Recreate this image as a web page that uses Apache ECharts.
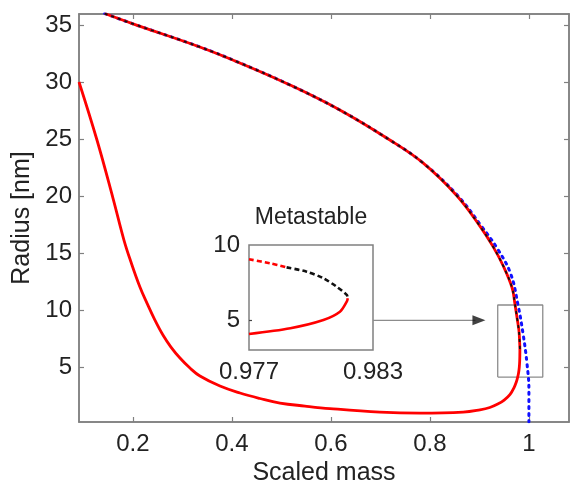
<!DOCTYPE html>
<html><head><meta charset="utf-8">
<script src="https://cdn.jsdelivr.net/npm/echarts@6/dist/echarts.min.js"></script>
<style>html,body{margin:0;padding:0;background:#fff;overflow:hidden}#c{width:571px;height:482px}</style>
</head><body><div id="c"></div>
<script>
// ---- tick values ----
const xTicks = [0.2, 0.4, 0.6, 0.8, 1];
const yTicks = [5, 10, 15, 20, 25, 30, 35];
const insetXTicks = [0.977, 0.983];
const insetYTicks = [5, 10];

// ---- main chart: upper branch (from top-left down to the turning point) ----
const upperMass   = [0.143, 0.2, 0.335, 0.416, 0.517, 0.618, 0.719, 0.786, 0.854, 0.901, 0.927, 0.948, 0.966, 0.9715, 0.977, 0.97802, 0.97882, 0.97979, 0.9806, 0.98124, 0.98173, 0.98178];
const upperRadius = [36.0, 35.1, 33.07, 31.67, 29.74, 27.54, 24.91, 22.9, 20.04, 17.36, 15.6, 13.88, 11.95, 10.6, 9.05, 8.78, 8.51, 8.22, 7.78, 7.22, 6.67, 6.45];

// ---- main chart: lower branch (from the turning point back to the left edge) ----
const lowerMass   = [0.98173, 0.9814, 0.9806, 0.979, 0.977, 0.975, 0.97, 0.962, 0.95, 0.937, 0.921, 0.901, 0.867, 0.78, 0.699, 0.598, 0.5475, 0.497, 0.4566, 0.4162, 0.3758, 0.3354, 0.3152, 0.295, 0.2768, 0.2606, 0.2444, 0.2283, 0.2141, 0.196, 0.1818, 0.1596, 0.1273, 0.091];
const lowerRadius = [6.22, 5.55, 5.0, 4.45, 4.07, 3.75, 3.2, 2.6, 2.1, 1.75, 1.45, 1.25, 1.05, 0.96, 1.05, 1.36, 1.58, 1.84, 2.24, 2.72, 3.33, 4.21, 4.91, 5.79, 6.75, 7.81, 9.12, 10.61, 12.02, 14.21, 16.14, 19.82, 24.91, 30.0];

// ---- main chart: blue dotted curve ----
const blueMass   = [0.143, 0.2, 0.335, 0.416, 0.517, 0.618, 0.719, 0.786, 0.856, 0.904, 0.936, 0.963, 0.978, 0.988, 0.996, 1.0, 1.0];
const blueRadius = [36.0, 35.1, 33.07, 31.67, 29.74, 27.54, 24.91, 22.9, 20.04, 17.36, 15.4, 13.2, 10.44, 7.98, 5.35, 2.98, 0.2];

// ---- zoom box and arrow (data coordinates of main chart) ----
const boxMass   = [0.937, 1.028, 1.028, 0.937, 0.937];
const boxRadius = [4.12, 4.12, 10.44, 10.44, 4.12];
const arrowMass   = [0.685, 0.892];
const arrowRadius = [9.1, 9.1];
const arrowHead   = [[0.899, 9.1]];

// ---- inset (metastable region) ----
const insetLowerMass   = [0.977, 0.979, 0.9806, 0.9814, 0.98173, 0.98178];
const insetLowerRadius = [4.07, 4.45, 5.0, 5.55, 6.22, 6.45];
const insetRedDashMass   = [0.977, 0.97802, 0.97882];
const insetRedDashRadius = [9.05, 8.78, 8.51];
const insetBlackDashMass   = [0.97882, 0.97979, 0.9806, 0.98124, 0.98173, 0.98178];
const insetBlackDashRadius = [8.51, 8.22, 7.78, 7.22, 6.67, 6.45];

const zip = (a, b) => a.map((v, i) => [v, b[i]]);

const FONT = 'Liberation Sans';
const TXT = '#222';
const AX = '#808080';
const axLine = {show: true, lineStyle: {color: AX, width: 1.5}};

const chart = echarts.init(document.getElementById('c'), null, {renderer: 'canvas'});
chart.setOption({
  backgroundColor: '#fff',
  animation: false,
  grid: [
    {left: 79, top: 14, right: 2, bottom: 60, outerBoundsMode: 'none', containLabel: false,
     show: true, borderColor: AX, borderWidth: 1.5, backgroundColor: 'transparent'},
    {left: 249, top: 245, width: 124, height: 105, outerBoundsMode: 'none', containLabel: false,
     show: true, borderColor: AX, borderWidth: 1.5, backgroundColor: '#fff'}
  ],
  graphic: [{
    type: 'text', x: 311, y: 218, z: 100,
    style: {text: 'Metastable', font: '23px "Liberation Sans"', fill: TXT, textAlign: 'center', textVerticalAlign: 'middle'}
  }],
  xAxis: [
    {type: 'value', gridIndex: 0, position: 'bottom', min: 0.091, max: 1.081,
     axisLine: axLine, splitLine: {show: false},
     axisTick: {show: true, inside: true, length: 5, customValues: xTicks, lineStyle: {color: AX, width: 1.2}},
     axisLabel: {customValues: xTicks, color: TXT, fontSize: 24, fontFamily: FONT, margin: 10},
     name: 'Scaled mass', nameLocation: 'middle', nameGap: 36,
     nameTextStyle: {color: TXT, fontSize: 25, fontFamily: FONT}},
    {type: 'value', gridIndex: 0, position: 'top', min: 0.091, max: 1.081,
     axisLine: axLine, splitLine: {show: false}, axisLabel: {show: false},
     axisTick: {show: true, inside: true, length: 5, customValues: xTicks, lineStyle: {color: AX, width: 1.2}}},
    {type: 'value', gridIndex: 1, position: 'bottom', min: 0.977, max: 0.983,
     axisLine: {show: false}, splitLine: {show: false},
     axisTick: {show: false},
     axisLabel: {customValues: insetXTicks, showMinLabel: true, showMaxLabel: true, color: TXT, fontSize: 24, fontFamily: FONT, margin: 10}}
  ],
  yAxis: [
    {type: 'value', gridIndex: 0, position: 'left', min: 0.18, max: 35.96,
     axisLine: axLine, splitLine: {show: false},
     axisTick: {show: true, inside: true, length: 5, customValues: yTicks, lineStyle: {color: AX, width: 1.2}},
     axisLabel: {customValues: yTicks, color: TXT, fontSize: 24, fontFamily: FONT, margin: 7},
     name: 'Radius [nm]', nameLocation: 'middle', nameGap: 44, nameRotate: 90,
     nameTextStyle: {color: TXT, fontSize: 25, fontFamily: FONT}},
    {type: 'value', gridIndex: 0, position: 'right', min: 0.18, max: 35.96,
     axisLine: axLine, splitLine: {show: false}, axisLabel: {show: false},
     axisTick: {show: true, inside: true, length: 5, customValues: yTicks, lineStyle: {color: AX, width: 1.2}}},
    {type: 'value', gridIndex: 1, position: 'left', min: 3, max: 10,
     axisLine: {show: false}, splitLine: {show: false},
     axisTick: {show: true, inside: true, length: 3, customValues: [5], lineStyle: {color: '#444', width: 1.2}},
     axisLabel: {customValues: insetYTicks, showMinLabel: true, showMaxLabel: true, color: TXT, fontSize: 24, fontFamily: FONT, margin: 9}}
  ],
  series: [
    {type: 'line', xAxisIndex: 0, yAxisIndex: 0, data: zip(blueMass, blueRadius), smooth: 0.4, showSymbol: false, clip: true,
     lineStyle: {color: '#1010ff', width: 3, type: [2, 5], cap: 'round'}, z: 3},
    {type: 'line', xAxisIndex: 0, yAxisIndex: 0, data: zip(upperMass, upperRadius).concat(zip(lowerMass, lowerRadius)), smooth: 0.4, showSymbol: false, clip: true,
     lineStyle: {color: '#ff0000', width: 2.8}, z: 4},
    {type: 'line', xAxisIndex: 0, yAxisIndex: 0, data: zip(upperMass, upperRadius), smooth: 0.4, showSymbol: false, clip: true,
     lineStyle: {color: '#111', width: 1.8, type: [3, 4]}, z: 5},
    {type: 'line', xAxisIndex: 0, yAxisIndex: 0, data: zip(boxMass, boxRadius), showSymbol: false, clip: false,
     lineStyle: {color: '#8c8c8c', width: 1.3}, z: 2},
    {type: 'line', xAxisIndex: 0, yAxisIndex: 0, data: zip(arrowMass, arrowRadius), showSymbol: false, clip: false,
     lineStyle: {color: '#8c8c8c', width: 1.3}, z: 2},
    {type: 'scatter', xAxisIndex: 0, yAxisIndex: 0, data: arrowHead, symbol: 'triangle', symbolSize: [10, 13], symbolRotate: -90,
     itemStyle: {color: '#111'}, z: 3},
    {type: 'line', xAxisIndex: 2, yAxisIndex: 2, data: zip(insetLowerMass, insetLowerRadius), smooth: 0.3, showSymbol: false, clip: true,
     lineStyle: {color: '#ff0000', width: 2.6}, z: 4},
    {type: 'line', xAxisIndex: 2, yAxisIndex: 2, data: zip(insetRedDashMass, insetRedDashRadius), smooth: 0.3, showSymbol: false, clip: true,
     lineStyle: {color: '#ff0000', width: 2.6, type: [5, 3]}, z: 4},
    {type: 'line', xAxisIndex: 2, yAxisIndex: 2, data: zip(insetBlackDashMass, insetBlackDashRadius), smooth: 0.3, showSymbol: false, clip: true,
     lineStyle: {color: '#111', width: 2.6, type: [5, 3]}, z: 4}
  ]
});
</script>
</body></html>
